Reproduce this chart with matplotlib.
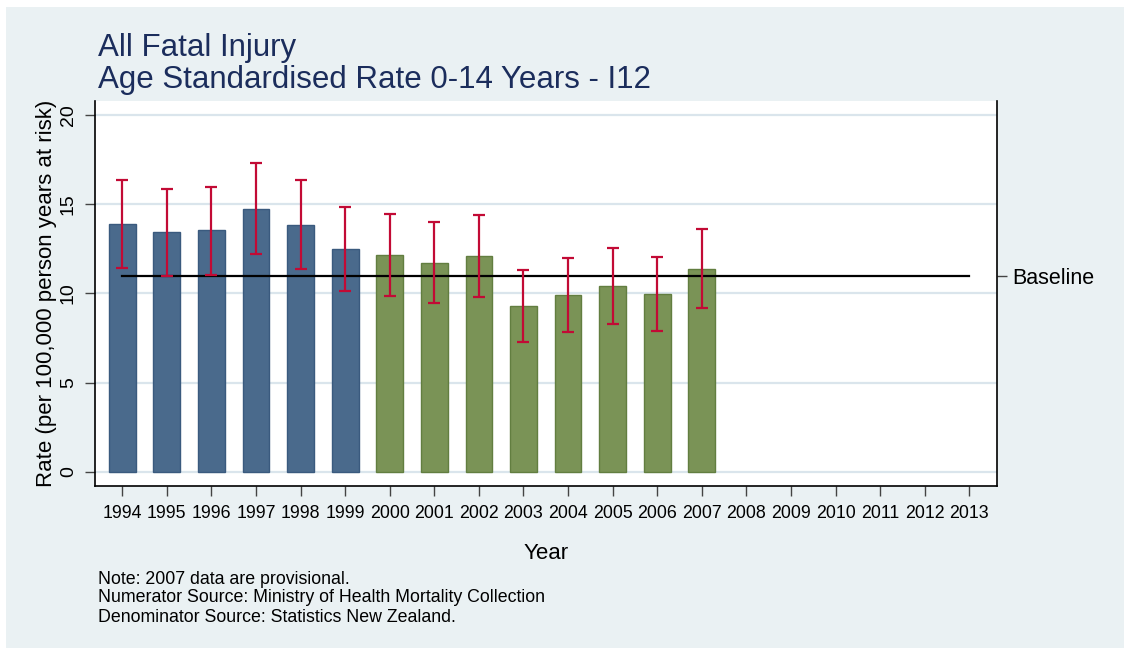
import matplotlib.pyplot as plt
from matplotlib.patches import Rectangle

plt.rcParams['font.family'] = ['Liberation Sans', 'DejaVu Sans']

# data
years = list(range(1994, 2014))
bar_years_old = [1994, 1995, 1996, 1997, 1998, 1999]
rate_old = [13.88, 13.43, 13.54, 14.76, 13.86, 12.51]
upper_old = [16.37, 15.87, 15.98, 17.31, 16.34, 14.87]
lower_old = [11.42, 10.95, 11.06, 12.23, 11.38, 10.14]

bar_years_new = [2000, 2001, 2002, 2003, 2004, 2005, 2006, 2007]
rate_new = [12.15, 11.72, 12.07, 9.31, 9.92, 10.40, 9.95, 11.38]
upper_new = [14.46, 14.03, 14.37, 11.32, 12.00, 12.52, 12.02, 13.60]
lower_new = [9.84, 9.46, 9.80, 7.29, 7.83, 8.26, 7.87, 9.16]

baseline = 11.0
y_ticks = [0, 5, 10, 15, 20]

title_lines = ["All Fatal Injury", "Age Standardised Rate 0-14 Years - I12"]
notes = ["Note: 2007 data are provisional.",
         "Numerator Source: Ministry of Health Mortality Collection",
         "Denominator Source: Statistics New Zealand."]

BG = '#EAF1F3'
BLUE = '#4A6A8C'
GREEN = '#7A9356'
RED = '#C20A35'
TITLE_COL = '#1B2D5C'
GRID = '#DAE5EC'

fig = plt.figure(figsize=(11.24, 6.48), dpi=100)
fig.patch.set_facecolor('white')
fig.patches.append(Rectangle((6 / 1124, 0), 1, 1 - 7 / 648, transform=fig.transFigure,
                             facecolor=BG, edgecolor='none', zorder=-10))

ax = fig.add_axes([95 / 1124, 1 - 486 / 648, (997 - 95) / 1124, (486 - 101) / 648])
ax.set_facecolor('white')

for yv in y_ticks:
    ax.axhline(yv, color=GRID, lw=1.6, zorder=0)

ax.bar(bar_years_old, rate_old, width=0.6, color=BLUE, edgecolor='#3A5A7E', lw=1.0, zorder=2)
ax.bar(bar_years_new, rate_new, width=0.6, color=GREEN, edgecolor='#627E40', lw=1.0, zorder=2)

all_years = bar_years_old + bar_years_new
all_rate = rate_old + rate_new
all_up = upper_old + upper_new
all_lo = lower_old + lower_new
yerr = [[r - lo for r, lo in zip(all_rate, all_lo)], [u - r for r, u in zip(all_rate, all_up)]]
ax.errorbar(all_years, all_rate, yerr=yerr, fmt='none', ecolor=RED, elinewidth=1.6,
            capsize=4, capthick=1.6, zorder=4)

ax.plot([years[0], years[-1]], [baseline, baseline], color='black', lw=1.6, zorder=3)

ax.set_xlim(1993.39, 2013.62)
ax.set_ylim(-0.8, 20.79)
ax.set_xticks(years)
ax.set_xticklabels([str(y) for y in years], fontsize=12.8)
ax.set_yticks(y_ticks)
ax.set_yticklabels([str(v) for v in y_ticks], fontsize=14, rotation=90, va='center')
ax.tick_params(axis='both', direction='out', length=7, width=1, color='#444444', pad=6)
ax.tick_params(axis='x', pad=7)

ax.set_xlabel('Year', fontsize=16, labelpad=15)
ax.set_ylabel('Rate (per 100,000 person years at risk)', fontsize=16, labelpad=2)

ax2 = ax.twinx()
ax2.set_ylim(ax.get_ylim())
ax2.set_yticks([baseline])
ax2.set_yticklabels(['Baseline'], fontsize=15.5)
ax2.tick_params(axis='y', direction='out', length=7, width=1, color='#444444', pad=4)

for a in (ax, ax2):
    a.spines['top'].set_visible(False)
ax.spines['right'].set_visible(False)
ax2.spines['left'].set_visible(False)
ax2.spines['bottom'].set_visible(False)
ax.spines['left'].set_linewidth(1.2)
ax.spines['bottom'].set_linewidth(1.2)
ax2.spines['right'].set_linewidth(1.2)

fig.text(98 / 1124, 1 - 48 / 648, title_lines[0], fontsize=22.5, color=TITLE_COL, va='center', ha='left')
fig.text(98 / 1124, 1 - 80 / 648, title_lines[1], fontsize=22.5, color=TITLE_COL, va='center', ha='left')

for i, line in enumerate(notes):
    fig.text(98 / 1124, 1 - (579 + 19 * i) / 648, line, fontsize=12.8, color='black', va='center', ha='left')

fig.savefig('out.png', dpi=100, facecolor=fig.get_facecolor())
